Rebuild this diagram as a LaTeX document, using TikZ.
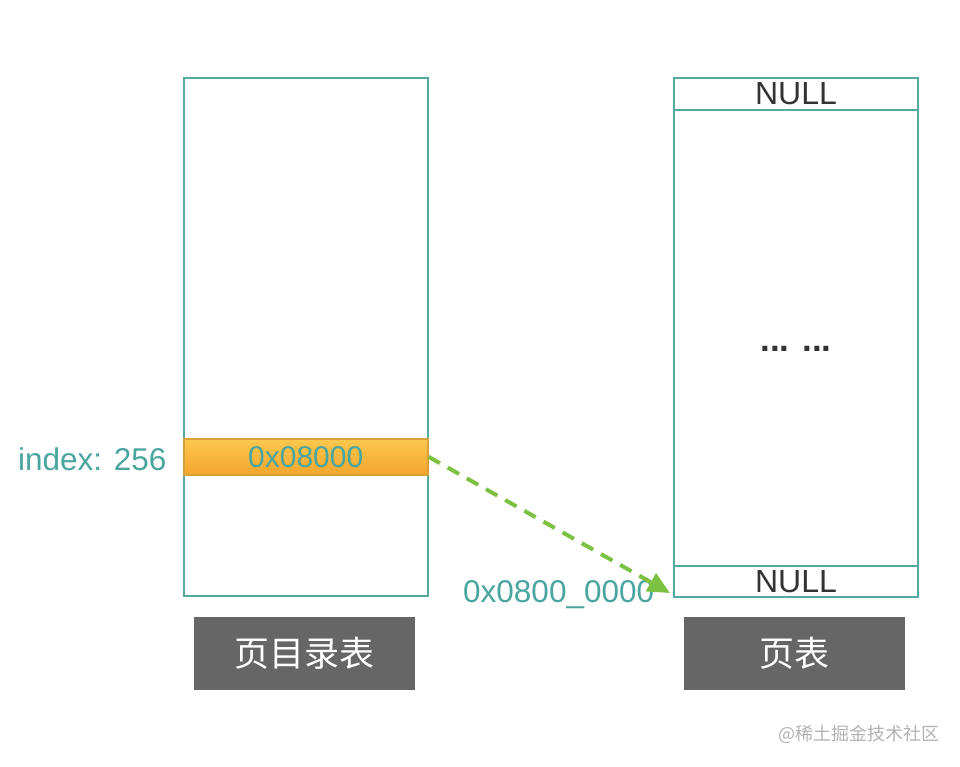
\documentclass[tikz,border=0pt]{standalone}
\usepackage{fontspec}
\setmainfont{Liberation Sans}
\newfontfamily\cjk{Noto Sans CJK SC}
\usetikzlibrary{arrows.meta}
\definecolor{teal1}{HTML}{56A8A2}
\definecolor{tealtxt}{HTML}{4AA59F}
\definecolor{grayb}{HTML}{666666}
\definecolor{greenar}{HTML}{7CC142}
\definecolor{orgtop}{HTML}{FBC84E}
\definecolor{orgbot}{HTML}{F5A52E}
\definecolor{orgline}{HTML}{D9A03A}
\definecolor{txtdark}{HTML}{333333}
\tikzset{
  tbl/.style={draw=teal1, line width=2pt, fill=white, minimum width=244pt, inner sep=0pt, anchor=north west},
  rowbox/.style={draw=teal1, line width=2pt, minimum width=244pt, inner sep=0pt, anchor=north west},
  hlrow/.style={draw=orgline, line width=1.5pt, top color=orgtop, bottom color=orgbot, minimum width=244pt, minimum height=36pt, inner sep=0pt, anchor=north west, text=tealtxt, font=\fontsize{30}{34}\selectfont},
  caption/.style={fill=grayb, minimum width=221pt, minimum height=73pt, inner sep=0pt, anchor=north west, text=white, font=\cjk\fontsize{35}{40}\selectfont},
  lbl/.style={text=tealtxt, font=\fontsize{31.5}{36}\selectfont, inner sep=0pt},
  nulltxt/.style={text=txtdark, font=\fontsize{32}{36}\selectfont},
}
\begin{document}
\begin{tikzpicture}[x=1pt, y=-1pt]
\useasboundingbox (0,0) rectangle (960,766);
% left table
\node[tbl, minimum height=518pt] (ltab) at (183,77) {};
\node[hlrow] (hl) at (183,438) {0x08000};
% right table
\node[tbl, minimum height=519pt] (rtab) at (673,77) {};
\node[rowbox, minimum height=32pt, nulltxt] (topnull) at (673,77) {NULL};
\node[rowbox, minimum height=31pt, nulltxt] (botnull) at (673,565) {NULL};
\node[text=txtdark, font=\bfseries\fontsize{35}{40}\selectfont] (dots) at (796,349) {... ...};
% labels
\node[lbl, anchor=west] (idx) at (18,459) {index: 256};
\node[lbl, anchor=west] (addr) at (463,595) {0x0800\_0000};
% captions
\node[caption] (cap1) at (194,617) {页目录表};
\node[caption] (cap2) at (684,617) {页表};
% watermark
\node[text=black!30, font=\cjk\fontsize{18}{20}\selectfont, anchor=west, inner sep=0pt] (wm) at (778,734) {@稀土掘金技术社区};
% arrow
\coordinate (tip) at (670,593);
\draw[greenar, line width=4pt, dash pattern=on 13pt off 9pt, -{Triangle[length=22pt,width=20pt]}] (hl.east) -- (tip);
\end{tikzpicture}
\end{document}
